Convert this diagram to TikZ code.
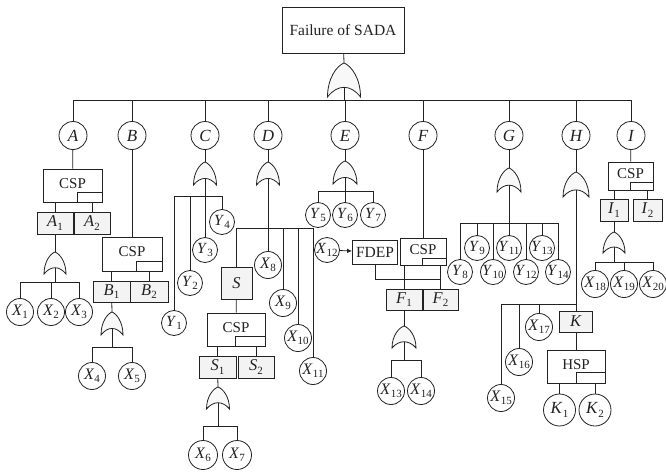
\documentclass[tikz,border=0pt]{standalone}
\usepackage{fontspec}
\setmainfont{Liberation Serif}
\usetikzlibrary{arrows.meta,calc}

\definecolor{ink}{HTML}{222222}
\definecolor{boxgray}{HTML}{F3F3F3}
\definecolor{gatefill}{HTML}{F8F8F8}

% italic event letter with an upright subscript
\newcommand\ev[2]{\textit{#1}\kern0.2pt\raisebox{-0.45ex}{\fontsize{11}{11}\selectfont #2}}
% small "spare" corner rectangle inside a CSP/HSP gate box
\newcommand\sparecorner[3]{\draw ([xshift=-#2pt]#1.south east) |- ([yshift=#3pt]#1.south east);}

\tikzset{
  gateline/.style={draw=ink, fill=gatefill, line width=0.8pt},
  pics/orgate/.style n args={2}{code={
    \draw[gateline] ({-#1/2},{#2}) .. controls ({-#1/2},{0.45*#2}) and ({-0.22*#1},{0.08*#2}) .. (0,0)
      .. controls ({0.22*#1},{0.08*#2}) and ({#1/2},{0.45*#2}) .. ({#1/2},{#2})
      .. controls ({0.2*#1},{0.62*#2}) and ({-0.2*#1},{0.62*#2}) .. ({-#1/2},{#2}) -- cycle;
    \coordinate (-in) at (0,0);
    \coordinate (-out) at (0,{0.715*#2});
  }},
  topbox/.style={draw=ink, fill=white, inner sep=0pt, minimum width=122pt, minimum height=46pt,
    font=\fontsize{15.5}{16}\selectfont},
  lett/.style={circle, draw=ink, fill=white, inner sep=0pt, minimum size=28pt,
    font=\fontsize{17}{17}\selectfont\itshape},
  xev/.style={circle, draw=ink, fill=white, inner sep=0pt, minimum size=27pt,
    font=\fontsize{16}{16}\selectfont},
  yev/.style={circle, draw=ink, fill=white, inner sep=0pt, minimum size=25pt,
    font=\fontsize{15.5}{15.5}\selectfont},
  kev/.style={circle, draw=ink, fill=white, inner sep=0pt, minimum size=32pt,
    font=\fontsize{17}{17}\selectfont},
  sbox/.style={draw=ink, fill=boxgray, inner sep=0pt, font=\fontsize{16.5}{16.5}\selectfont},
  spare/.style={draw=ink, fill=white, inner sep=0pt, font=\fontsize{15}{15}\selectfont},
  fdep/.style={draw=ink, fill=white, inner sep=0pt, font=\fontsize{15.5}{16}\selectfont},
}

\begin{document}
\begin{tikzpicture}[x=1pt, y=-1pt, color=ink, line width=0.8pt]
\useasboundingbox (0,0) rectangle (666,471);

% ---------- top event ----------
\node[topbox] (top) at (343,30) {Failure of SADA};
\pic (g0) at (344,63) {orgate={33}{34}};
\coordinate (b0) at (344,100);

\foreach \n/\x in {A/73,B/132,C/205,D/268,E/345,F/423,G/509,H/576,I/631}
  \node[lett] (\n) at (\x,135.5) {\n};

% ---------- branch A ----------
\node[spare, minimum width=59pt, minimum height=33pt] (cspA) at (72.5,185.5) {\raisebox{4pt}{CSP}};
\node[sbox, minimum width=36pt, minimum height=22pt] (A1) at (55,223) {\ev{A}{1}};
\node[sbox, minimum width=36pt, minimum height=22pt] (A2) at (92,223) {\ev{A}{2}};
\pic (gA) at (55,252) {orgate={22}{22}};
\coordinate (bA) at (55,282);
\node[xev] (X1) at (20,312) {\ev{X}{1}};
\node[xev] (X2) at (51,312) {\ev{X}{2}};
\node[xev] (X3) at (79,312) {\ev{X}{3}};

% ---------- branch B ----------
\node[spare, minimum width=60pt, minimum height=34pt] (cspB) at (132,254) {\raisebox{4pt}{CSP}};
\node[sbox, minimum width=37pt, minimum height=21pt] (B1) at (111.5,291.5) {\ev{B}{1}};
\node[sbox, minimum width=38pt, minimum height=21pt] (B2) at (149,291.5) {\ev{B}{2}};
\pic (gB) at (112,312) {orgate={22}{23}};
\coordinate (bB) at (112,347);
\node[xev] (X4) at (92,376) {\ev{X}{4}};
\node[xev] (X5) at (132,376) {\ev{X}{5}};

% ---------- branch C ----------
\pic (gC) at (205,162) {orgate={23}{23}};
\coordinate (bC) at (205,196);
\node[yev] (Y1) at (174,323) {\ev{Y}{1}};
\node[yev] (Y2) at (190,283) {\ev{Y}{2}};
\node[yev] (Y3) at (205,250) {\ev{Y}{3}};
\node[yev] (Y4) at (222,222) {\ev{Y}{4}};

% ---------- branch D ----------
\pic (gD) at (268,162) {orgate={23}{23}};
\coordinate (bD) at (268,228);
\node[sbox, minimum width=31pt, minimum height=32pt] (S) at (236.5,283) {\textit{S}};
\node[xev] (X8) at (268,265) {\ev{X}{8}};
\node[xev] (X9) at (283,303) {\ev{X}{9}};
\node[xev] (X10) at (298,338) {\ev{X}{10}};
\node[xev] (X11) at (313,371) {\ev{X}{11}};
\node[spare, minimum width=58pt, minimum height=33pt] (cspD) at (236,329.5) {\raisebox{4pt}{CSP}};
\node[sbox, minimum width=37pt, minimum height=22pt] (S1) at (217.5,367) {\ev{S}{1}};
\node[sbox, minimum width=36pt, minimum height=22pt] (S2) at (256,367) {\ev{S}{2}};
\pic (gS) at (218,387) {orgate={23}{22}};
\coordinate (bS) at (218,426);
\node[xev, minimum size=29pt] (X6) at (203,455) {\ev{X}{6}};
\node[xev, minimum size=29pt] (X7) at (237,455) {\ev{X}{7}};

% ---------- branch E ----------
\pic (gE) at (345,161) {orgate={24}{23}};
\coordinate (bE) at (345,191);
\node[yev] (Y5) at (318,215) {\ev{Y}{5}};
\node[yev] (Y6) at (345,215) {\ev{Y}{6}};
\node[yev] (Y7) at (373,215) {\ev{Y}{7}};

% ---------- branch F ----------
\node[spare, minimum width=46pt, minimum height=27pt] (cspF) at (423,251.5) {\raisebox{3pt}{CSP}};
\node[fdep, minimum width=45pt, minimum height=24pt] (FDEP) at (375,252) {FDEP};
\node[yev] (X12) at (327,250) {\ev{X}{12}};
\coordinate (bFd) at (375,279);
\node[sbox, minimum width=36pt, minimum height=21pt] (F1) at (404,299.5) {\ev{F}{1}};
\node[sbox, minimum width=35pt, minimum height=21pt] (F2) at (440.5,299.5) {\ev{F}{2}};
\pic (gF) at (404,326) {orgate={24}{22}};
\coordinate (bF) at (404,360);
\node[xev] (X13) at (391,391) {\ev{X}{13}};
\node[xev] (X14) at (421,391) {\ev{X}{14}};

% ---------- branch G ----------
\pic (gG) at (509,168) {orgate={24}{24}};
\coordinate (bG) at (509,223);
\node[yev] (Y8) at (460,272) {\ev{Y}{8}};
\node[yev] (Y9) at (477,248) {\ev{Y}{9}};
\node[yev] (Y10) at (493,272) {\ev{Y}{10}};
\node[yev] (Y11) at (509,248) {\ev{Y}{11}};
\node[yev] (Y12) at (526,272) {\ev{Y}{12}};
\node[yev] (Y13) at (542,248) {\ev{Y}{13}};
\node[yev] (Y14) at (558,272) {\ev{Y}{14}};

% ---------- branch H ----------
\pic (gH) at (576,172) {orgate={26}{25}};
\coordinate (bH) at (576,304);
\node[xev] (X15) at (501,398) {\ev{X}{15}};
\node[xev] (X16) at (519,362) {\ev{X}{16}};
\node[xev] (X17) at (539,327) {\ev{X}{17}};
\node[sbox, minimum width=33pt, minimum height=21pt] (K) at (576,321.5) {\textit{K}};
\node[spare, minimum width=58pt, minimum height=33pt] (hsp) at (576,366.5) {\raisebox{4pt}{HSP}};
\node[kev] (K1) at (559.5,410) {\ev{K}{1}};
\node[kev] (K2) at (595,410) {\ev{K}{2}};

% ---------- branch I ----------
\node[spare, minimum width=45pt, minimum height=28pt] (cspI) at (630.5,176) {\raisebox{4pt}{CSP}};
\node[sbox, minimum width=28pt, minimum height=22pt] (I1) at (614,210) {\ev{I}{1}};
\node[sbox, minimum width=29pt, minimum height=22pt] (I2) at (647.5,210) {\ev{I}{2}};
\pic (gI) at (614,232) {orgate={22}{21}};
\coordinate (bI) at (614,262);
\node[xev] (X18) at (595,284) {\ev{X}{18}};
\node[xev] (X19) at (624,284) {\ev{X}{19}};
\node[xev] (X20) at (653,284) {\ev{X}{20}};

% ---------- spare corner marks ----------
\sparecorner{cspA}{25}{10}
\sparecorner{cspB}{26}{10}
\sparecorner{cspD}{30}{10}
\sparecorner{cspF}{24}{7}
\sparecorner{cspI}{23}{8}
\sparecorner{hsp}{29}{11}

% ---------- connectors ----------
\draw (top) -- (g0-in);
\draw (g0-out) -- (b0);
\foreach \n in {A,B,C,D,E,F,G,H,I} \draw (b0) -| (\n);

% A
\draw (A) -- (cspA);
\draw (cspA.south -| A1) -- (A1);
\draw (cspA.south -| A2) -- (A2);
\draw (A1) -- (gA-in);
\draw (gA-out) -- (bA);
\foreach \c in {X1,X2,X3} \draw (bA) -| (\c);

% B
\draw (B) -- (cspB);
\draw (cspB.south -| B1) -- (B1);
\draw (cspB.south -| B2) -- (B2);
\draw (B1) -- (gB-in);
\draw (gB-out) -- (bB);
\foreach \c in {X4,X5} \draw (bB) -| (\c);

% C
\draw (C) -- (gC-in);
\draw (gC-out) -- (bC);
\foreach \c in {Y1,Y2,Y3,Y4} \draw (bC) -| (\c);

% D
\draw (D) -- (gD-in);
\draw (gD-out) -- (bD);
\foreach \c in {S,X8,X9,X10,X11} \draw (bD) -| (\c);
\draw (S) -- (cspD);
\draw (cspD.south -| S1) -- (S1);
\draw (cspD.south -| S2) -- (S2);
\draw (S1) -- (gS-in);
\draw (gS-out) -- (bS);
\foreach \c in {X6,X7} \draw (bS) -| (\c);

% E
\draw (E) -- (gE-in);
\draw (gE-out) -- (bE);
\foreach \c in {Y5,Y6,Y7} \draw (bE) -| (\c);

% F
\draw (F) -- (cspF);
\draw[-{Latex[length=5pt,width=4.5pt]}] (X12) -- (FDEP);
\draw (FDEP) -- (bFd) -| (F2);
\draw (cspF.south -| F1) -- (F1);
\draw (cspF.south -| F2) -- (F2);
\draw (F1) -- (gF-in);
\draw (gF-out) -- (bF);
\foreach \c in {X13,X14} \draw (bF) -| (\c);

% G
\draw (G) -- (gG-in);
\draw (gG-out) -- (bG);
\foreach \c in {Y8,Y9,Y10,Y11,Y12,Y13,Y14} \draw (bG) -| (\c);

% H
\draw (H) -- (gH-in);
\draw (gH-out) -- (bH);
\foreach \c in {X15,X16,X17,K} \draw (bH) -| (\c);
\draw (K) -- (hsp);
\draw (hsp.south -| K1) -- (K1);
\draw (hsp.south -| K2) -- (K2);

% I
\draw (I) -- (cspI);
\draw (cspI.south -| I1) -- (I1);
\draw (cspI.south -| I2) -- (I2);
\draw (I1) -- (gI-in);
\draw (gI-out) -- (bI);
\foreach \c in {X18,X19,X20} \draw (bI) -| (\c);
\end{tikzpicture}
\end{document}
